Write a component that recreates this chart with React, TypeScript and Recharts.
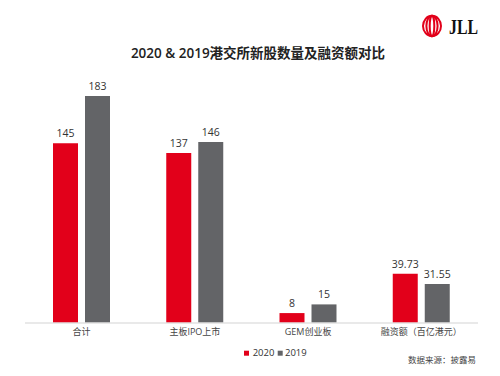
import React from 'react';
import { BarChart, Bar, XAxis, YAxis, LabelList } from 'recharts';

const categories = ['合计', '主板IPO上市', 'GEM创业板', '融资额（百亿港元）'];
const values2020 = [145, 137, 8, 39.73];
const values2019 = [183, 146, 15, 31.55];
const seriesNames = ['2020', '2019'];

const RED = '#E2001A';
const GRAY = '#636467';
const FONT = '"Open Sans", "Noto Sans CJK SC", sans-serif';

const data = categories.map((c, i) => ({ name: c, y2020: values2020[i], y2019: values2019[i] }));

export default function App() {
  return (
    <div style={{ position: 'absolute', left: 0, top: 0, width: 500, height: 376, background: '#fff', fontFamily: FONT }}>
      <BarChart
        width={500}
        height={376}
        data={data}
        margin={{ top: 75, right: 22, bottom: 23, left: 25 }}
        barSize={25}
        barGap={7}
      >
        <XAxis
          dataKey="name"
          axisLine={{ stroke: '#e2e2e2', strokeWidth: 1.5 }}
          tickLine={false}
          tickMargin={0}
          height={30}
          interval={0}
          tick={{ fontSize: 9, fill: '#444', fontFamily: FONT }}
        />
        <YAxis hide domain={[0, 200]} />
        <Bar dataKey="y2020" name={seriesNames[0]} fill={RED} isAnimationActive={false}>
          <LabelList dataKey="y2020" position="top" offset={6} style={{ fontSize: 10.5, fill: '#333', fontFamily: FONT }} />
        </Bar>
        <Bar dataKey="y2019" name={seriesNames[1]} fill={GRAY} isAnimationActive={false}>
          <LabelList dataKey="y2019" position="top" offset={6} style={{ fontSize: 10.5, fill: '#333', fontFamily: FONT }} />
        </Bar>
      </BarChart>
      <svg width={500} height={376} style={{ position: 'absolute', left: 0, top: 0, pointerEvents: 'none' }}>
        <text x={258} y={58} textAnchor="middle" fontSize={13.5} fontWeight={600} fill="#222" fontFamily={FONT}>
          2020 &amp; 2019港交所新股数量及融资额对比
        </text>
        <g fill="none" stroke={RED} strokeWidth={2}>
          <ellipse cx={432} cy={26} rx={9} ry={10.2} />
          <ellipse cx={432} cy={26} rx={5.6} ry={10.2} />
          <ellipse cx={432} cy={26} rx={2.3} ry={10.2} />
        </g>
        <text x={449} y={34.3} fontSize={20} fontWeight="bold" fill="#111" fontFamily='"Liberation Serif", serif' textLength={29} lengthAdjust="spacingAndGlyphs">
          JLL
        </text>
        <rect x={244} y={350.7} width={5} height={5} fill={RED} />
        <text x={252.7} y={356} fontSize={9.5} fill="#333" fontFamily={FONT}>{seriesNames[0]}</text>
        <rect x={277.7} y={350.7} width={5} height={5} fill={GRAY} />
        <text x={285} y={356} fontSize={9.5} fill="#333" fontFamily={FONT}>{seriesNames[1]}</text>
        <text x={476} y={362.5} textAnchor="end" fontSize={8.5} fill="#444" fontFamily={FONT}>数据来源：披露易</text>
      </svg>
    </div>
  );
}
